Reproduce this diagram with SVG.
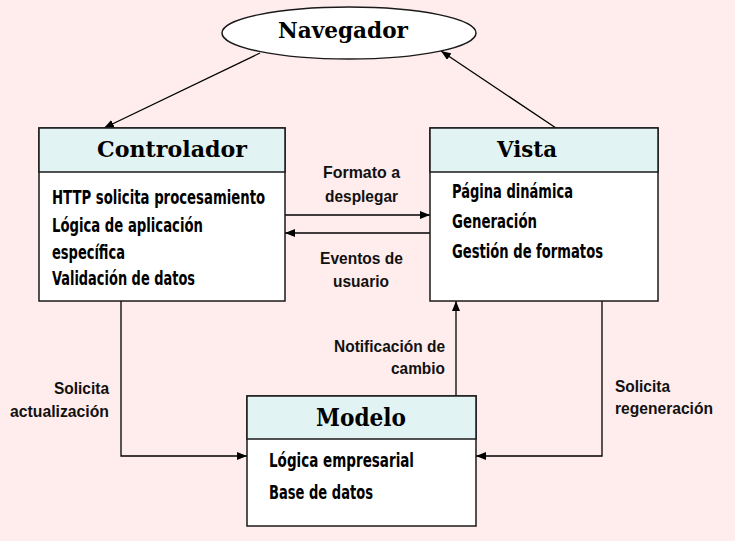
<svg xmlns="http://www.w3.org/2000/svg" width="735" height="541" viewBox="0 0 735 541">
<defs>
<marker id="ah" viewBox="0 0 10 8" refX="10" refY="4" markerWidth="10" markerHeight="8" markerUnits="userSpaceOnUse" orient="auto">
<path d="M0,0 L10,4 L0,8 z" fill="#000"/>
</marker>
<style>
.box{fill:#ffffff;stroke:#1a1a1a;stroke-width:1.5}
.hdr{fill:#e1f3f3;stroke:#1a1a1a;stroke-width:1.5}
.ttl{font-family:"DejaVu Serif","Liberation Serif",serif;font-weight:bold;fill:#000}
.body{font-family:"DejaVu Sans Condensed","DejaVu Sans",sans-serif;font-weight:bold;font-size:20px;fill:#000}
.lbl{font-family:"Liberation Sans",Arial,sans-serif;font-weight:bold;font-size:16.5px;fill:#111}
.ln{fill:none;stroke:#000;stroke-width:1.3;marker-end:url(#ah)}
</style>
</defs>
<rect x="0" y="0" width="735" height="541" fill="#ffeded"/>

<g id="connectors">
<line class="ln" x1="260" y1="53" x2="104" y2="128"/>
<line class="ln" x1="556" y1="128" x2="441" y2="51"/>
<line class="ln" x1="285" y1="215" x2="430" y2="215"/>
<line class="ln" x1="430" y1="233" x2="285" y2="233"/>
<path class="ln" d="M121,301 V456 H247"/>
<path class="ln" d="M602,301 V456 H476"/>
<line class="ln" x1="456" y1="396" x2="456" y2="301"/>
<text class="lbl" x="323" y="178" textLength="77" lengthAdjust="spacingAndGlyphs">Formato a</text>
<text class="lbl" x="325" y="202" textLength="73" lengthAdjust="spacingAndGlyphs">desplegar</text>
<text class="lbl" x="320" y="264" textLength="83" lengthAdjust="spacingAndGlyphs">Eventos de</text>
<text class="lbl" x="333" y="287" textLength="56" lengthAdjust="spacingAndGlyphs">usuario</text>
<text class="lbl" x="334" y="352" textLength="111" lengthAdjust="spacingAndGlyphs">Notificación de</text>
<text class="lbl" x="391" y="374" textLength="54" lengthAdjust="spacingAndGlyphs">cambio</text>
<text class="lbl" x="54" y="394" textLength="55" lengthAdjust="spacingAndGlyphs">Solicita</text>
<text class="lbl" x="10" y="417" textLength="99" lengthAdjust="spacingAndGlyphs">actualización</text>
<text class="lbl" x="615" y="392" textLength="55" lengthAdjust="spacingAndGlyphs">Solicita</text>
<text class="lbl" x="615" y="414" textLength="98" lengthAdjust="spacingAndGlyphs">regeneración</text>
</g>

<g id="navegador">
<ellipse cx="349" cy="33" rx="127" ry="26" fill="#ffffff" stroke="#1a1a1a" stroke-width="1.5"/>
<text class="ttl" x="278" y="38" font-size="22" textLength="130" lengthAdjust="spacingAndGlyphs">Navegador</text>
</g>

<g id="controlador">
<rect class="box" x="39" y="128" width="246" height="173"/>
<rect class="hdr" x="39" y="128" width="246" height="44"/>
<text class="ttl" x="97" y="157" font-size="23" textLength="150" lengthAdjust="spacingAndGlyphs">Controlador</text>
<text class="body" transform="translate(52,204) scale(0.737,1)" x="0" y="0">HTTP solicita procesamiento</text>
<text class="body" x="52" y="232" textLength="151" lengthAdjust="spacingAndGlyphs">Lógica de aplicación</text>
<text class="body" x="52" y="259" textLength="73" lengthAdjust="spacingAndGlyphs">específica</text>
<text class="body" x="52" y="285" textLength="143" lengthAdjust="spacingAndGlyphs">Validación de datos</text>
</g>

<g id="vista">
<rect class="box" x="430" y="128" width="228" height="173"/>
<rect class="hdr" x="430" y="128" width="228" height="44"/>
<text class="ttl" x="497" y="157" font-size="23" textLength="60" lengthAdjust="spacingAndGlyphs">Vista</text>
<text class="body" x="452" y="198" textLength="121" lengthAdjust="spacingAndGlyphs">Página dinámica</text>
<text class="body" x="452" y="228" textLength="85" lengthAdjust="spacingAndGlyphs">Generación</text>
<text class="body" x="452" y="258" textLength="151" lengthAdjust="spacingAndGlyphs">Gestión de formatos</text>
</g>

<g id="modelo">
<rect class="box" x="247" y="396" width="229" height="130"/>
<rect class="hdr" x="247" y="396" width="229" height="43"/>
<text class="ttl" x="316" y="426" font-size="24" textLength="90" lengthAdjust="spacingAndGlyphs">Modelo</text>
<text class="body" x="269" y="467" textLength="145" lengthAdjust="spacingAndGlyphs">Lógica empresarial</text>
<text class="body" x="269" y="499" textLength="104" lengthAdjust="spacingAndGlyphs">Base de datos</text>
</g>
</svg>
